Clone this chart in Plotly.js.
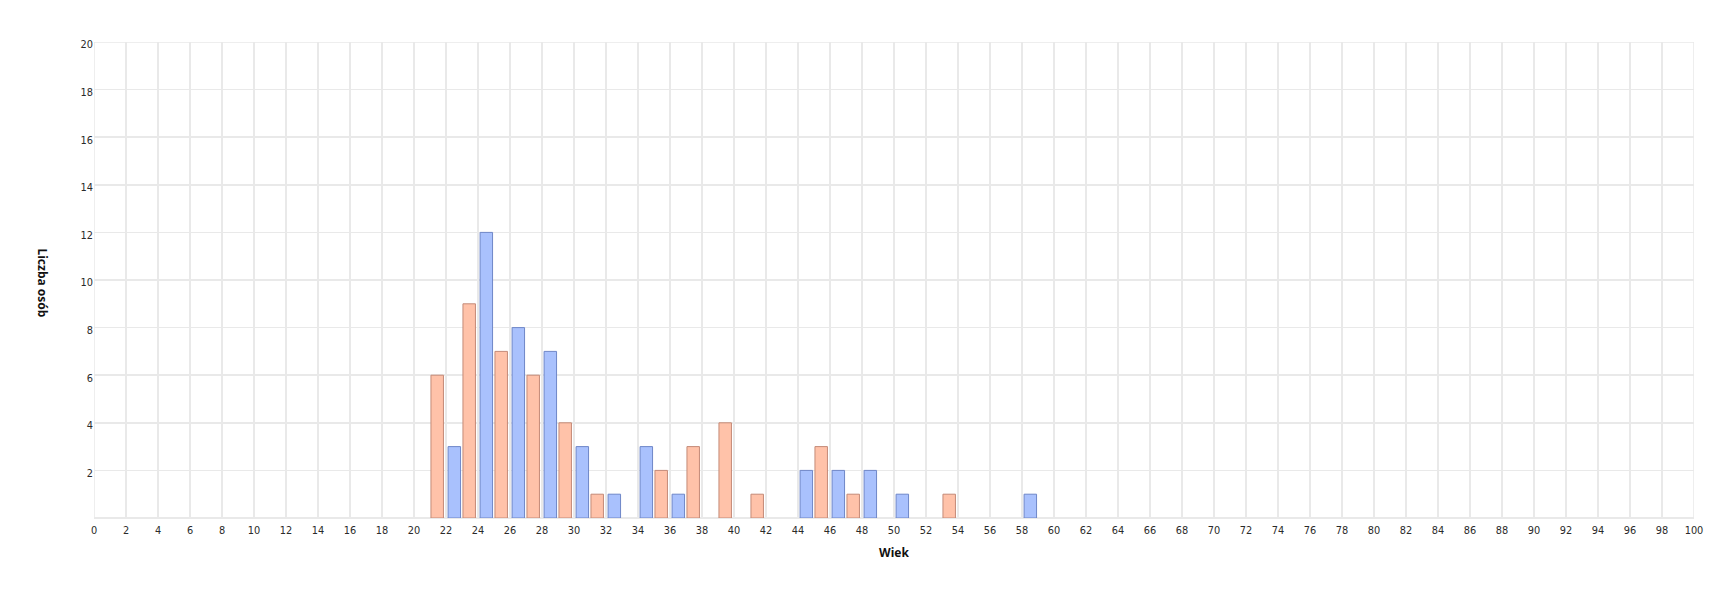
<!DOCTYPE html>
<html>
<head>
<meta charset="utf-8">
<script src="https://cdn.plot.ly/plotly-3.0.1.min.js"></script>
<style>html,body{margin:0;padding:0;background:#fff;}#chart{width:1734px;height:594px;}</style>
</head>
<body>
<div id="chart"></div>
<script>
// Ages (bin start) and counts
const agesA = [21, 23, 25, 27, 29, 31, 35, 37, 39, 41, 45, 47, 53];
const countsA = [6, 9, 7, 6, 4, 1, 2, 3, 4, 1, 3, 1, 1];
const agesB = [22, 24, 26, 28, 30, 32, 34, 36, 44, 46, 48, 50, 58];
const countsB = [3, 12, 8, 7, 3, 1, 3, 1, 2, 2, 2, 1, 1];
const xTicks = Array.from({length: 51}, (_, i) => i * 2);
const yTicks = [2, 4, 6, 8, 10, 12, 14, 16, 18, 20];
const xTitle = 'Wiek';
const yTitle = 'Liczba osób';

const grid = '#e9e9e9';
const tickFont = {family: 'DejaVu Sans, sans-serif', size: 9.8, color: '#2a2a2a'};
const titleFont = {family: 'Noto Sans, sans-serif', size: 12, color: '#111111', weight: 'bold'};

const traces = [
  {type: 'bar', x: agesA, y: countsA, width: 0.78, offset: 0.06,
   marker: {color: '#ffc2a9', line: {color: '#c48a78', width: 1}},
   hoverinfo: 'x+y', showlegend: false},
  {type: 'bar', x: agesB, y: countsB, width: 0.78, offset: 0.13,
   marker: {color: '#a9c1fd', line: {color: '#6f87c8', width: 1}},
   hoverinfo: 'x+y', showlegend: false}
];

const layout = {
  width: 1734, height: 594,
  margin: {l: 94, r: 40, t: 42, b: 76},
  paper_bgcolor: '#ffffff', plot_bgcolor: '#ffffff',
  font: tickFont,
  barmode: 'overlay',
  xaxis: {
    range: [0, 100], tickvals: xTicks, ticktext: xTicks.map(String),
    showgrid: true, gridcolor: grid, gridwidth: 1.5,
    zeroline: false, showline: false, ticks: '', ticklen: 0,
    ticklabelstandoff: 5,
    tickfont: tickFont,
    title: {text: xTitle, standoff: 13, font: titleFont},
    automargin: false, fixedrange: true
  },
  yaxis: {
    range: [0, 20], tickvals: yTicks, ticktext: yTicks.map(String),
    showgrid: true, gridcolor: grid, gridwidth: 1.5,
    zeroline: true, zerolinecolor: grid, zerolinewidth: 1.5,
    showline: false, ticks: '', ticklabelstandoff: 0, ticklabelshift: 3,
    tickfont: tickFont,
    automargin: false, fixedrange: true
  },
  shapes: [
    {type: 'line', xref: 'x', yref: 'paper', x0: 0, x1: 0, y0: 0, y1: 1, line: {color: grid, width: 1.5}, layer: 'below'},
    {type: 'line', xref: 'x', yref: 'paper', x0: 100, x1: 100, y0: 0, y1: 1, line: {color: grid, width: 1.5}, layer: 'below'},
    {type: 'line', xref: 'paper', yref: 'y', x0: 0, x1: 1, y0: 20, y1: 20, line: {color: grid, width: 1.5}, layer: 'below'}
  ],
  annotations: [
    {text: yTitle, xref: 'paper', yref: 'paper', x: -0.032, y: 0.493,
     xanchor: 'center', yanchor: 'middle', textangle: 90, showarrow: false,
     font: titleFont}
  ]
};

Plotly.newPlot('chart', traces, layout, {displayModeBar: false, staticPlot: true});
</script>
</body>
</html>
